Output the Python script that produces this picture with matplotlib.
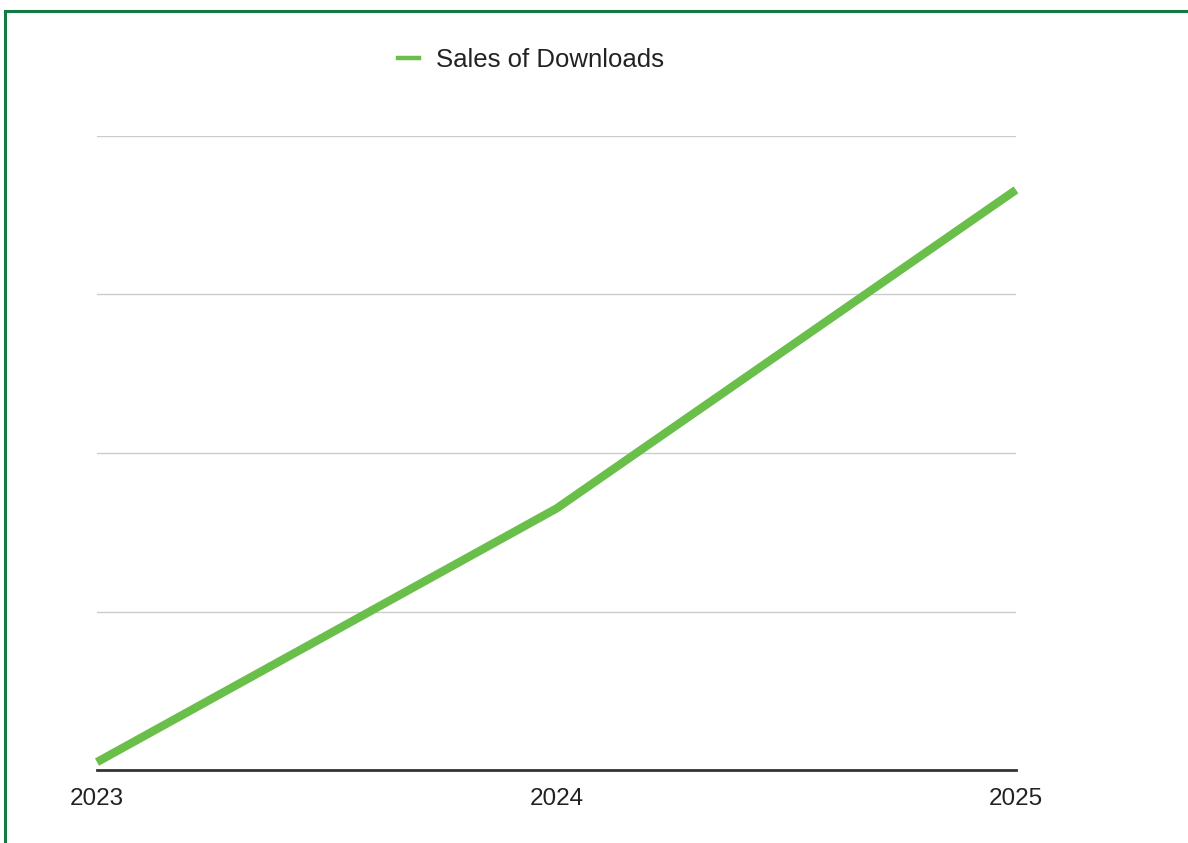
import matplotlib.pyplot as plt
from matplotlib.lines import Line2D

years = ["2023", "2024", "2025"]
sales = [0.05, 1.65, 3.66]

plt.rcParams['font.family'] = ['Liberation Sans', 'DejaVu Sans']

fig = plt.figure(figsize=(11.88, 8.43), dpi=100)
ax = fig.add_axes([97/1188, 1 - 770/843, (1016-97)/1188, (770-136)/843])

ax.plot(range(len(years)), sales, color='#6abf4b', lw=6, solid_capstyle='butt',
        label='Sales of Downloads', clip_on=False)
ax.set_xlim(0, len(years) - 1)
ax.set_ylim(0, 4)
ax.set_yticks([1, 2, 3, 4])
ax.set_yticklabels([])
ax.tick_params(axis='y', length=0)
ax.grid(axis='y', color='#cccccc', lw=1)
ax.set_axisbelow(True)
ax.set_xticks(range(len(years)))
ax.set_xticklabels(years, fontsize=17.5, color='#222222')
ax.tick_params(axis='x', length=0, pad=13)
for s in ['top', 'right', 'left']:
    ax.spines[s].set_visible(False)
ax.spines['bottom'].set_color('#333333')
ax.spines['bottom'].set_linewidth(2)

leg = fig.legend(handles=[Line2D([], [], color='#6abf4b', lw=3.2)], labels=['Sales of Downloads'],
                 loc='center', bbox_to_anchor=(531/1188, 1 - 60/843), frameon=False,
                 fontsize=18.5, handlelength=0.8, handletextpad=0.65)
for t in leg.get_texts():
    t.set_color('#222222')

# green frame from the screenshot crop (top and left edges)
fig.add_artist(Line2D([5/1188, 1], [1 - 11/843, 1 - 11/843], color='#137a43', lw=2.2))
fig.add_artist(Line2D([5/1188, 5/1188], [0, 1 - 11/843], color='#137a43', lw=2.2))

fig.savefig('out.png', dpi=100)
